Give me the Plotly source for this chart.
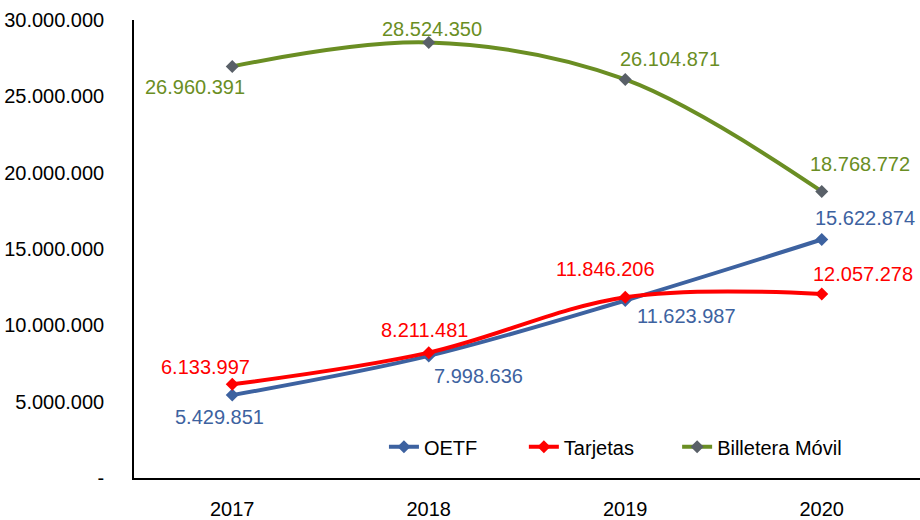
import plotly.graph_objects as go

years = ["2017", "2018", "2019", "2020"]
oetf = [5429851, 7998636, 11623987, 15622874]
tarjetas = [6133997, 8211481, 11846206, 12057278]
billetera = [26960391, 28524350, 26104871, 18768772]
y_ticks = [0, 5000000, 10000000, 15000000, 20000000, 25000000, 30000000]


def fmt(v):
    # thousands separated by dots, zero shown as a dash
    return "-" if v == 0 else f"{v:,}".replace(",", ".")


# name, values, line colour, marker colour, label offsets (px), legend id, legend x
series = [
    ("OETF", oetf, "#3D62A0", "#3D62A0",
     [(-13, -22), (50, -20), (61, -15), (43, 21)], "legend", 0.318),
    ("Tarjetas", tarjetas, "#FF0000", "#FF0000",
     [(-27, 17), (-4, 23), (-20, 28), (41, 20)], "legend2", 0.496),
    ("Billetera Móvil", billetera, "#6A8E23", "#596068",
     [(-37, -21), (3, 14), (45, 20), (38, 27)], "legend3", 0.691),
]

fig = go.Figure()
legends = {}
for name, vals, color, mcolor, shifts, leg, legx in series:
    fig.add_trace(go.Scatter(
        x=years, y=vals, name=name, mode="lines+markers", legend=leg,
        line=dict(color=color, width=4, shape="spline", smoothing=1),
        marker=dict(symbol="diamond", size=10, color=mcolor),
    ))
    legends[leg] = dict(x=legx, y=0.068, xanchor="left", yanchor="middle",
                        orientation="h", font=dict(size=20),
                        bgcolor="rgba(0,0,0,0)")
    # category axis: annotations placed by category index
    for i, (v, (dx, dy)) in enumerate(zip(vals, shifts)):
        fig.add_annotation(x=i, y=v, text=fmt(v), showarrow=False,
                           xshift=dx, yshift=dy,
                           font=dict(color=color, size=20))

fig.update_layout(
    width=920, height=520,
    margin=dict(l=134, r=0, t=20, b=36),
    plot_bgcolor="white", paper_bgcolor="white",
    font=dict(family="Liberation Sans, Arial, sans-serif", size=20, color="#000000"),
    showlegend=True,
    **legends,
)
fig.update_xaxes(type="category", range=[-0.5, 3.5], showline=True, linecolor="#000000",
                 linewidth=1.5, showgrid=False, ticks="", ticklabelstandoff=12)
fig.update_yaxes(range=[0, 30000000], tickvals=y_ticks, ticktext=[fmt(v) for v in y_ticks],
                 showline=True, linecolor="#000000", linewidth=1.5, showgrid=False,
                 zeroline=False, ticks="", ticklabelstandoff=24)

# drop the default page margin so the 920x520 figure fills the window
fig.write_html("out.html", config={"displayModeBar": False},
               post_script="document.body.style.margin='0';")
